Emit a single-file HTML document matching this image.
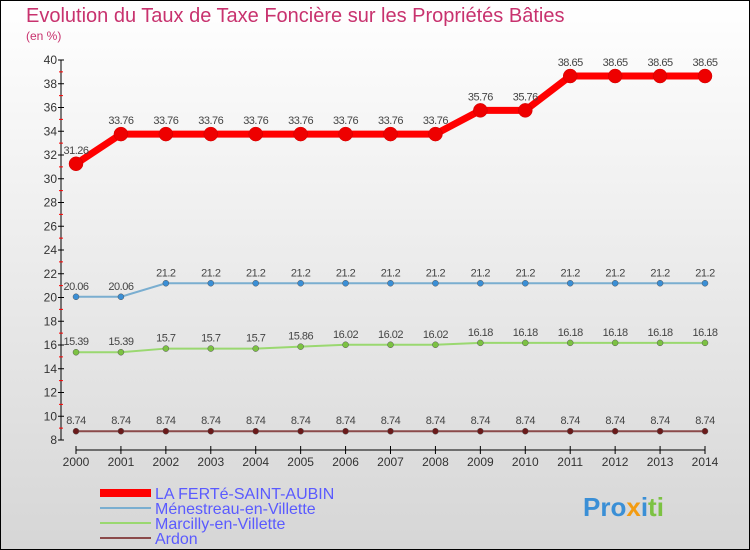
<!DOCTYPE html>
<html><head><meta charset="utf-8"><style>
body{margin:0}
#c{width:750px;height:550px;position:relative;box-sizing:border-box;border:1px solid #000;background:linear-gradient(#fff,#d6d6d6);font-family:"Liberation Sans",sans-serif;overflow:hidden}
</style></head><body>
<div id="c">
<svg id="s" width="750" height="550" style="position:absolute;left:-1px;top:-1px">
<text x="26" y="22" font-size="20" fill="#c8326e">Evolution du Taux de Taxe Foncière sur les Propriétés Bâties</text>
<text x="26" y="40" font-size="12" fill="#c8326e">(en %)</text>
<g id="axes"></g><g id="series"></g><g id="legend"></g>
<text x="583" y="516" font-size="26" font-weight="bold"><tspan fill="#3a8fd6">Pro</tspan><tspan fill="#f39c12">x</tspan><tspan fill="#3a8fd6">i</tspan><tspan fill="#7cc242">ti</tspan></text>
</svg>
</div>
<script>
const years=[2000,2001,2002,2003,2004,2005,2006,2007,2008,2009,2010,2011,2012,2013,2014];
const laFerte=[31.26,33.76,33.76,33.76,33.76,33.76,33.76,33.76,33.76,35.76,35.76,38.65,38.65,38.65,38.65];
const menestreau=[20.06,20.06,21.2,21.2,21.2,21.2,21.2,21.2,21.2,21.2,21.2,21.2,21.2,21.2,21.2];
const marcilly=[15.39,15.39,15.7,15.7,15.7,15.86,16.02,16.02,16.02,16.18,16.18,16.18,16.18,16.18,16.18];
const ardon=[8.74,8.74,8.74,8.74,8.74,8.74,8.74,8.74,8.74,8.74,8.74,8.74,8.74,8.74,8.74];
const yTicks=[8,10,12,14,16,18,20,22,24,26,28,30,32,34,36,38,40];
const seriesNames=["LA FERTé-SAINT-AUBIN","Ménestreau-en-Villette","Marcilly-en-Villette","Ardon"];
const NS="http://www.w3.org/2000/svg";
const X=i=>76+i*(705-76)/(years.length-1);
const Y=v=>440-(v-8)*380/32;
function mk(p,t,a){const e=document.createElementNS(NS,t);for(const k in a)e.setAttribute(k,a[k]);p.appendChild(e);return e;}
const ax=document.getElementById('axes');
mk(ax,'line',{x1:61,y1:Y(40),x2:61,y2:Y(8),stroke:'#000'});
yTicks.forEach(v=>{
 mk(ax,'line',{x1:58,x2:64,y1:Y(v),y2:Y(v),stroke:'#000'});
 mk(ax,'line',{x1:59,x2:63,y1:Y(v+1),y2:Y(v+1),stroke:v<40?'#f00':'none'});
 const t=mk(ax,'text',{x:57,y:Y(v)+4,'font-size':12,'text-anchor':'end',fill:'#333'});t.textContent=v;
 
});
mk(ax,'line',{x1:76,x2:705,y1:450,y2:450,stroke:'#000'});
years.forEach((y,i)=>{
 mk(ax,'line',{x1:X(i),x2:X(i),y1:446,y2:454,stroke:'#000'});
 const t=mk(ax,'text',{x:X(i),y:466,'font-size':12,'text-anchor':'middle',fill:'#333'});t.textContent=y;
 
});
const sg=document.getElementById('series');
const defs=[[laFerte,'#f00',7,7,'#e00'],[menestreau,'#7aaed0',2,3,'#3a8fd6'],[marcilly,'#9ad870',2,3,'#7cc242'],[ardon,'#8b4a4a',2,3,'#6b1a1a']];
defs.forEach(([d,c,w,r,mc],si)=>{
 const g=mk(sg,'g',{});
 
 mk(g,'polyline',{points:d.map((v,i)=>X(i)+','+Y(v)).join(' '),fill:'none',stroke:c,'stroke-width':w});
 d.forEach((v,i)=>{
  const p=mk(g,'circle',{cx:X(i),cy:Y(v),r:r,fill:mc,stroke:si==0?'#c00':'#555','stroke-width':0.5});
  
  const t=mk(g,'text',{x:X(i),y:Y(v)-(si==0?10:7),'font-size':11,'text-anchor':'middle',fill:'#444','letter-spacing':'-0.5'});
  t.textContent=String(v).replace(/(\.\d)0$/,'$1');
  
 });
});
const lg=document.getElementById('legend');
defs.forEach(([d,c,w],i)=>{
 const yy=493+i*15;
 const e=mk(lg,'g',{});
 
 mk(e,'line',{x1:100,x2:151,y1:yy,y2:yy,stroke:c,'stroke-width':i==0?8:2});
 const t=mk(e,'text',{x:155,y:yy+6,'font-size':16,fill:'#5a5aff'});t.textContent=seriesNames[i];
});
</script>
</body></html>
